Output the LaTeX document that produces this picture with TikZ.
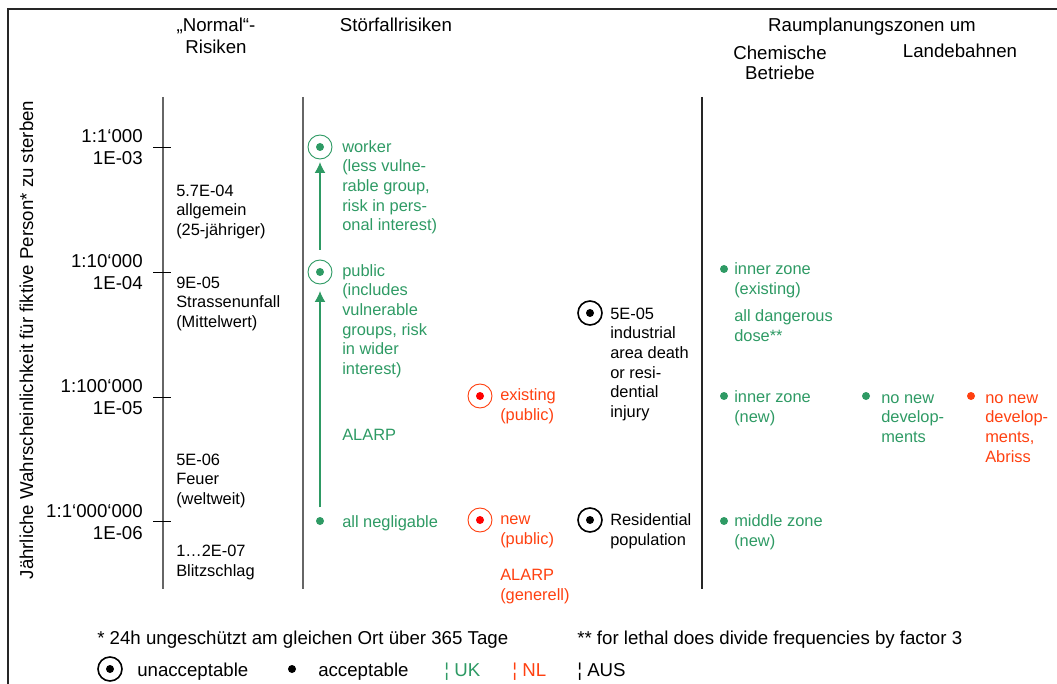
\documentclass[tikz,border=0pt]{standalone}
\usepackage{fontspec}
\setmainfont{Liberation Sans}
\usetikzlibrary{arrows.meta}
\definecolor{ukgreen}{RGB}{46,154,100}
\definecolor{nlred}{RGB}{255,64,16}
\begin{document}
\begin{tikzpicture}[x=0.75pt,y=-0.75pt,>={Latex[length=8pt,width=8pt]},
  txt/.style={anchor=base west,align=left,inner sep=0pt,font=\fontsize{12.3}{14.8}\selectfont},
  hdr/.style={inner sep=0pt,font=\fontsize{14}{16.5}\selectfont},
  ticklab/.style={anchor=base east,align=right,inner sep=0pt,font=\fontsize{14}{16.5}\selectfont},
  unacc/.style 2 args={circle,draw=#1,line width=0.7pt,minimum size=18pt,inner sep=0pt,
    path picture={\fill[#2] (path picture bounding box.center) circle (3pt);}},
  acc/.style={circle,fill=#1,minimum size=6pt,inner sep=0pt},
  axis/.style={line width=1pt}]
\useasboundingbox (0,0) rectangle (1057,684);
% frame
\draw[line width=1.5pt,black!85] (8,684) -- (8,9) -- (1057,9);

% headers (multi-line nodes sit on their last baseline)
\node (hnormal) at (216,54) [hdr,align=center,anchor=base] {„Normal“-\\Risiken};
\node (hstoer) at (396,32) [hdr,anchor=base] {Störfallrisiken};
\node (hraum) at (872,32) [hdr,anchor=base] {Raumplanungszonen um};
\node (hchem) at (780,80) [hdr,align=center,anchor=base,font=\fontsize{14}{15}\selectfont] {Chemische\\Betriebe};
\node (hlande) at (960,58) [hdr,anchor=base] {Landebahnen};
\node (ylab) at (33,340) [hdr,rotate=90,anchor=base] {Jährliche Wahrscheinlichkeit für fiktive Person* zu sterben};

% axes and ticks
\draw[axis,black!60] (163,97) -- (163,589);
\draw[axis,black!60] (303,97) -- (303,589);
\draw[axis,black!85] (702,97) -- (702,589);
\foreach \y in {147,272,397,521}
  \draw[line width=0.6pt] (153,\y) -- (171,\y);
\node (l3) at (143,165) [ticklab] {1:1‘000\\1E-03};
\node (l4) at (143,290) [ticklab] {1:10‘000\\1E-04};
\node (l5) at (143,414) [ticklab] {1:100‘000\\1E-05};
\node (l6) at (143,539) [ticklab] {1:1‘000‘000\\1E-06};

% "normal" risks
\node (allg) at (176,235.5) [txt] {5.7E-04\\allgemein\\(25-jähriger)};
\node (strasse) at (176,327.5) [txt] {9E-05\\Strassenunfall\\(Mittelwert)};
\node (feuer) at (176,504.5) [txt] {5E-06\\Feuer\\(weltweit)};
\node (blitz) at (176,576.7) [txt] {1…2E-07\\Blitzschlag};

% UK
\node (worker) at (320,147) [unacc={ukgreen}{ukgreen}] {};
\node (workertxt) at (342,231) [txt,ukgreen] {worker\\(less vulne-\\rable group,\\risk in pers-\\onal interest)};
\node (public) at (320,272) [unacc={ukgreen}{ukgreen}] {};
\node (publictxt) at (342,374.7) [txt,ukgreen] {public\\(includes\\vulnerable\\groups, risk\\in wider\\interest)};
\node (alarpuk) at (342,440) [txt,ukgreen] {ALARP};
\node (negl) at (320,521) [acc=ukgreen] {};
\node (negltxt) at (342,527) [txt,ukgreen] {all negligable};
\draw[->,ukgreen,line width=0.8pt,shorten <=7.5pt,shorten >=2pt] (public) -- (worker);
\draw[->,ukgreen,line width=0.8pt,shorten <=7pt,shorten >=5pt] (negl) -- (public);

% NL
\node (exist) at (480,396) [unacc={nlred}{red}] {};
\node (existtxt) at (500,420.7) [txt,nlred] {existing\\(public)};
\node (new) at (480,520) [unacc={nlred}{red}] {};
\node (newtxt) at (500,544.7) [txt,nlred] {new\\(public)};
\node (alarpnl) at (500,600.7) [txt,nlred] {ALARP\\(generell)};

% AUS
\node (indus) at (590,313) [unacc={black}{black},line width=1.2pt] {};
\node (industxt) at (610,417.7) [txt] {5E-05\\industrial\\area death\\or resi-\\dential\\injury};
\node (resid) at (590,520) [unacc={black}{black},line width=1.2pt] {};
\node (residtxt) at (610,545.7) [txt] {Residential\\population};

% zones
\node (innex) at (724,269) [acc=ukgreen] {};
\node (innextxt) at (734,294.7) [txt,ukgreen] {inner zone\\(existing)};
\node (dose) at (734,341.7) [txt,ukgreen] {all dangerous\\dose**};
\node (innnew) at (724,396) [acc=ukgreen] {};
\node (innnewtxt) at (734,422.7) [txt,ukgreen] {inner zone\\(new)};
\node (middle) at (724,521) [acc=ukgreen] {};
\node (middletxt) at (734,546.7) [txt,ukgreen] {middle zone\\(new)};
\node (lbuk) at (866,396) [acc=ukgreen] {};
\node (lbuktxt) at (881,442.5) [txt,ukgreen] {no new\\develop-\\ments};
\node (lbnl) at (971,396) [acc=nlred] {};
\node (lbnltxt) at (985,462.2) [txt,nlred] {no new\\develop-\\ments,\\Abriss};

% footnotes and legend
\node (foot1) at (97,644) [hdr,anchor=base west] {* 24h ungeschützt am gleichen Ort über 365 Tage};
\node (foot2) at (577,644) [hdr,anchor=base west] {** for lethal does divide frequencies by factor 3};
\node (legun) at (110,669) [unacc={black}{black},line width=1.2pt] {};
\node (leguntxt) at (137,676) [hdr,anchor=base west] {unacceptable};
\node (legac) at (292,669) [acc=black] {};
\node (legactxt) at (318,676) [hdr,anchor=base west] {acceptable};
\node (leguk) at (444,676) [hdr,anchor=base west,ukgreen] {¦ UK};
\node (legnl) at (512,676) [hdr,anchor=base west,nlred] {¦ NL};
\node (legaus) at (577,676) [hdr,anchor=base west] {¦ AUS};
\end{tikzpicture}
\end{document}
